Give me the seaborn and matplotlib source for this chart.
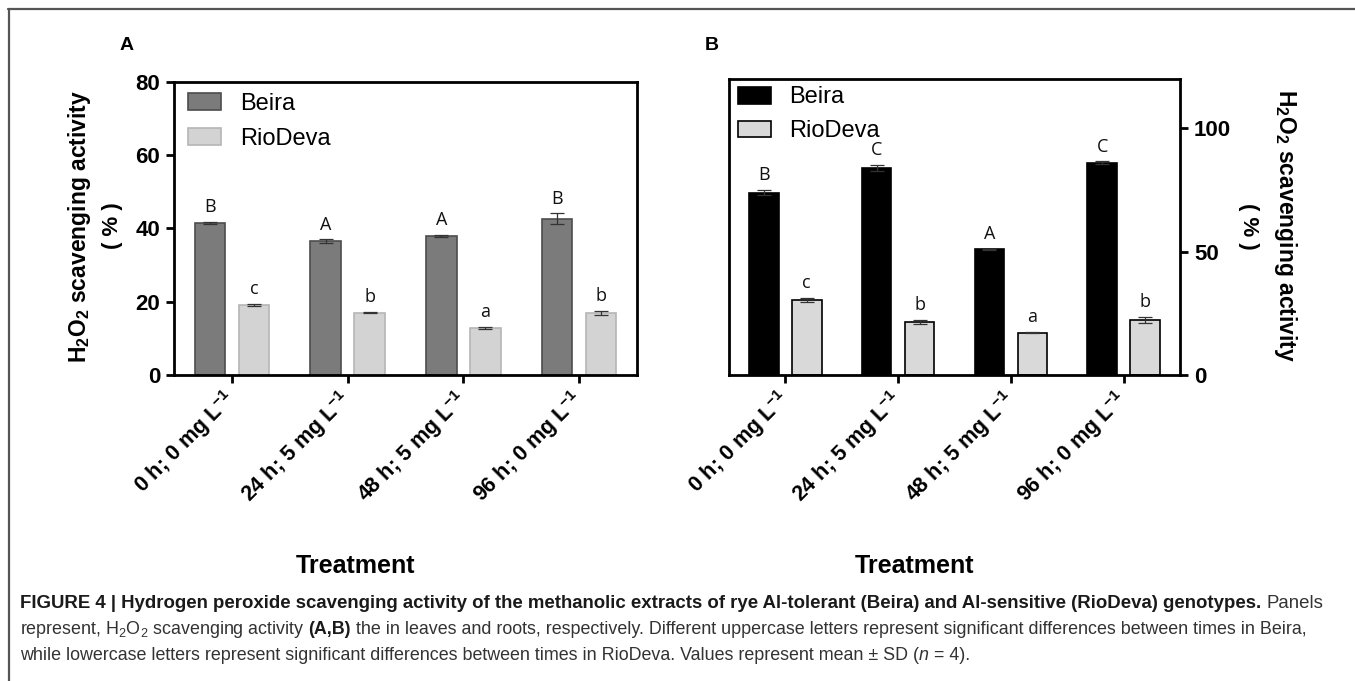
import matplotlib
matplotlib.use("Agg")
import matplotlib.pyplot as plt
from matplotlib import font_manager
from matplotlib.lines import Line2D
from matplotlib.patches import Patch
import seaborn as sns
import pandas as pd

# ---------------- data ----------------
treatments = ["0 h; 0 mg L$^{\\mathbf{-1}}$", "24 h; 5 mg L$^{\\mathbf{-1}}$",
              "48 h; 5 mg L$^{\\mathbf{-1}}$", "96 h; 0 mg L$^{\\mathbf{-1}}$"]
genotypes = ["Beira", "RioDeva"]

a_beira = [41.6, 36.6, 38.0, 42.7]
a_beira_sd = [0.3, 0.5, 0.3, 1.4]
a_rio = [19.1, 17.0, 12.8, 16.9]
a_rio_sd = [0.3, 0.2, 0.3, 0.6]
a_beira_letters = ["B", "A", "A", "B"]
a_rio_letters = ["c", "b", "a", "b"]

b_beira = [73.9, 84.1, 50.9, 86.1]
b_beira_sd = [1.1, 1.2, 0.3, 0.5]
b_rio = [30.5, 21.5, 17.2, 22.4]
b_rio_sd = [0.8, 0.8, 0.3, 1.3]
b_beira_letters = ["B", "C", "A", "C"]
b_rio_letters = ["c", "b", "a", "b"]

a_yticks = [0, 20, 40, 60, 80]
b_yticks = [0, 50, 100]

ylabel_main = "H$_\\mathbf{2}$O$_\\mathbf{2}$ scavenging activity"
ylabel_unit = "( % )"
xlabel = "Treatment"

# ---------------- style ----------------
sns.set_theme(style="white")
avail = {f.name for f in font_manager.fontManager.ttflist}
SANS = "Liberation Sans"
NARROW = "Liberation Sans Narrow" if "Liberation Sans Narrow" in avail else "Liberation Sans"
LETTER = "Open Sans"
plt.rcParams["font.family"] = [SANS, "DejaVu Sans"]
plt.rcParams["mathtext.fontset"] = "custom"
plt.rcParams["mathtext.rm"] = SANS
plt.rcParams["mathtext.it"] = SANS + ":italic"
plt.rcParams["mathtext.bf"] = SANS + ":bold"
for k in ("text.color", "axes.labelcolor", "xtick.color", "ytick.color", "axes.edgecolor"):
    plt.rcParams[k] = "black"

W, H = 1355, 681
fig = plt.figure(figsize=(W / 100, H / 100), dpi=100)
fig.patch.set_facecolor("white")


def px_axes(l, t, r, b):
    return fig.add_axes([l / W, 1 - b / H, (r - l) / W, (b - t) / H])


def make_panel(ax, beira, beira_sd, rio, rio_sd, bl, rl, cols, edges, ylim, yticks, right):
    df = pd.DataFrame({
        "Treatment": treatments * 2,
        "Genotype": [genotypes[0]] * 4 + [genotypes[1]] * 4,
        "value": list(beira) + list(rio),
    })
    sns.barplot(data=df, x="Treatment", y="value", hue="Genotype",
                hue_order=genotypes, order=treatments,
                palette=dict(zip(genotypes, cols)), errorbar=None,
                width=0.76, gap=0.31, ax=ax, legend=False, saturation=1)
    for cont, sds, letters, ec in zip(ax.containers, [beira_sd, rio_sd], [bl, rl], edges):
        for bar, sd, let in zip(cont, sds, letters):
            bar.set_edgecolor(ec)
            bar.set_linewidth(1.2)
            cx = bar.get_x() + bar.get_width() / 2
            h = bar.get_height()
            ax.errorbar(cx, h, yerr=sd, fmt="none", ecolor="#333333",
                        elinewidth=0.9, capsize=5, capthick=0.9, zorder=3)
            ax.annotate(let, (cx, h + sd), xytext=(0, 4), textcoords="offset points",
                        ha="center", va="bottom", fontsize=13,
                        family=[LETTER, "DejaVu Sans"], color="#111111")
    ax.set_xlim(-0.5, 3.5)
    ax.set_ylim(*ylim)
    ax.set_yticks(yticks)
    ax.set_xlabel("")
    ax.set_ylabel("")
    for s in ax.spines.values():
        s.set_visible(True)
        s.set_color("black")
        s.set_linewidth(2.0)
    ax.tick_params(axis="both", which="both", direction="out", length=6, width=2,
                   color="black", labelcolor="black", labelsize=16, pad=4)
    if right:
        ax.yaxis.tick_right()
        ax.tick_params(axis="y", left=False, right=True)
    else:
        ax.tick_params(axis="y", left=True, right=False)
    ax.tick_params(axis="x", bottom=True, top=False)
    for lab in ax.get_yticklabels():
        lab.set_fontweight("bold")
    ax.set_xticks(range(4))
    ax.set_xticklabels(treatments, rotation=45, ha="right", rotation_mode="anchor",
                       fontweight="bold", fontsize=15.5)
    handles = [Patch(facecolor=c, edgecolor=e, linewidth=1.2) for c, e in zip(cols, edges)]
    return handles


# Panel A
axA = px_axes(174, 82, 637, 375)
hA = make_panel(axA, a_beira, a_beira_sd, a_rio, a_rio_sd, a_beira_letters, a_rio_letters,
                ["#7b7b7b", "#d3d3d3"], ["#4d4d4d", "#b5b5b5"], (0, 80), a_yticks, False)
axA.legend(hA, genotypes, loc="upper left", bbox_to_anchor=(0.03, 0.962), frameon=False,
           fontsize=17, handlelength=1.4, handleheight=0.72, handletextpad=0.8,
           labelspacing=0.55, borderpad=0, borderaxespad=0)

# Panel B
axB = px_axes(729, 79, 1180, 375)
hB = make_panel(axB, b_beira, b_beira_sd, b_rio, b_rio_sd, b_beira_letters, b_rio_letters,
                ["#000000", "#d9d9d9"], ["#000000", "#000000"], (0, 120), b_yticks, True)
axB.legend(hB, genotypes, loc="upper left", bbox_to_anchor=(0.02, 0.975), frameon=False,
           fontsize=17, handlelength=1.4, handleheight=0.72, handletextpad=0.75,
           labelspacing=0.5, borderpad=0, borderaxespad=0)

for ax in (axA, axB):
    for lab in ax.get_xticklabels():
        lab.set_va("center")
    ax.tick_params(axis="x", pad=9)

# y labels
fig.text(80 / W, 1 - 226 / H, ylabel_main, rotation=90, ha="center", va="center",
         fontsize=16.5, fontweight="bold")
fig.text(113 / W, 1 - 226 / H, ylabel_unit, rotation=90, ha="center", va="center",
         fontsize=16, fontweight="bold")
fig.text(1285 / W, 1 - 226 / H, ylabel_main, rotation=270, ha="center", va="center",
         fontsize=16.5, fontweight="bold")
fig.text(1249 / W, 1 - 226 / H, ylabel_unit, rotation=270, ha="center", va="center",
         fontsize=16, fontweight="bold")

# x labels
fig.text(356 / W, 1 - 566 / H, xlabel, ha="center", va="center", fontsize=18,
         fontweight="bold", family=[NARROW, SANS])
fig.text(915 / W, 1 - 566 / H, xlabel, ha="center", va="center", fontsize=18,
         fontweight="bold", family=[NARROW, SANS])

# panel letters
fig.text(127 / W, 1 - 45 / H, "A", ha="center", va="center", fontsize=14, fontweight="bold")
fig.text(712 / W, 1 - 45 / H, "B", ha="center", va="center", fontsize=14, fontweight="bold")

# frame lines (top and left)
fig.add_artist(Line2D([8 / W, 1.0], [1 - 8.5 / H, 1 - 8.5 / H], color="#555555", lw=1.6,
                      transform=fig.transFigure))
fig.add_artist(Line2D([8.5 / W, 8.5 / W], [0, 1 - 8.5 / H], color="#555555", lw=1.6,
                      transform=fig.transFigure))

# caption (text, weight, style, colour, gap-before in em)
caption_lines = [
    [("FIGURE 4 | Hydrogen peroxide scavenging activity of the methanolic extracts of rye Al-tolerant (Beira) and Al-sensitive (RioDeva) genotypes.", "bold", "normal", "#1a1a1a", 0),
     ("Panels", "normal", "normal", "#333333", 0.28)],
    [("represent, H$_2$O$_2$ scavenging activity", "normal", "normal", "#333333", 0),
     ("(A,B)", "bold", "normal", "#1a1a1a", 0.22),
     ("the in leaves and roots, respectively. Different uppercase letters represent significant differences between times in Beira,", "normal", "normal", "#333333", 0.28)],
    [("while lowercase letters represent significant differences between times in RioDeva. Values represent mean \u00b1 SD (", "normal", "normal", "#333333", 0),
     ("n", "normal", "italic", "#333333", 0),
     (" = 4).", "normal", "normal", "#333333", 0)],
]
cap_y = [604, 630, 656]
cap_end = [1327, 1308, None]
renderer = fig.canvas.get_renderer()


def draw_line(runs, y, size, draw=True):
    x = 20.0
    arts = []
    for txt, wt, st, col, gap in runs:
        x += gap * size * 100 / 72
        t = fig.text(x / W, 1 - y / H, txt, ha="left", va="center", fontsize=size,
                     fontweight=wt, fontstyle=st, color=col, family=[NARROW, SANS])
        bb = t.get_window_extent(renderer)
        x += bb.width
        arts.append(t)
    if not draw:
        for t in arts:
            t.remove()
    return x


size = 12.0
for runs, y, target in zip(caption_lines, cap_y, cap_end):
    if target is not None:
        end = draw_line(runs, y, 12.0, draw=False)
        size = 12.0 * (target - 20) / (end - 20)
    draw_line(runs, y, size)

fig.savefig("out.png", dpi=100, facecolor="white")
